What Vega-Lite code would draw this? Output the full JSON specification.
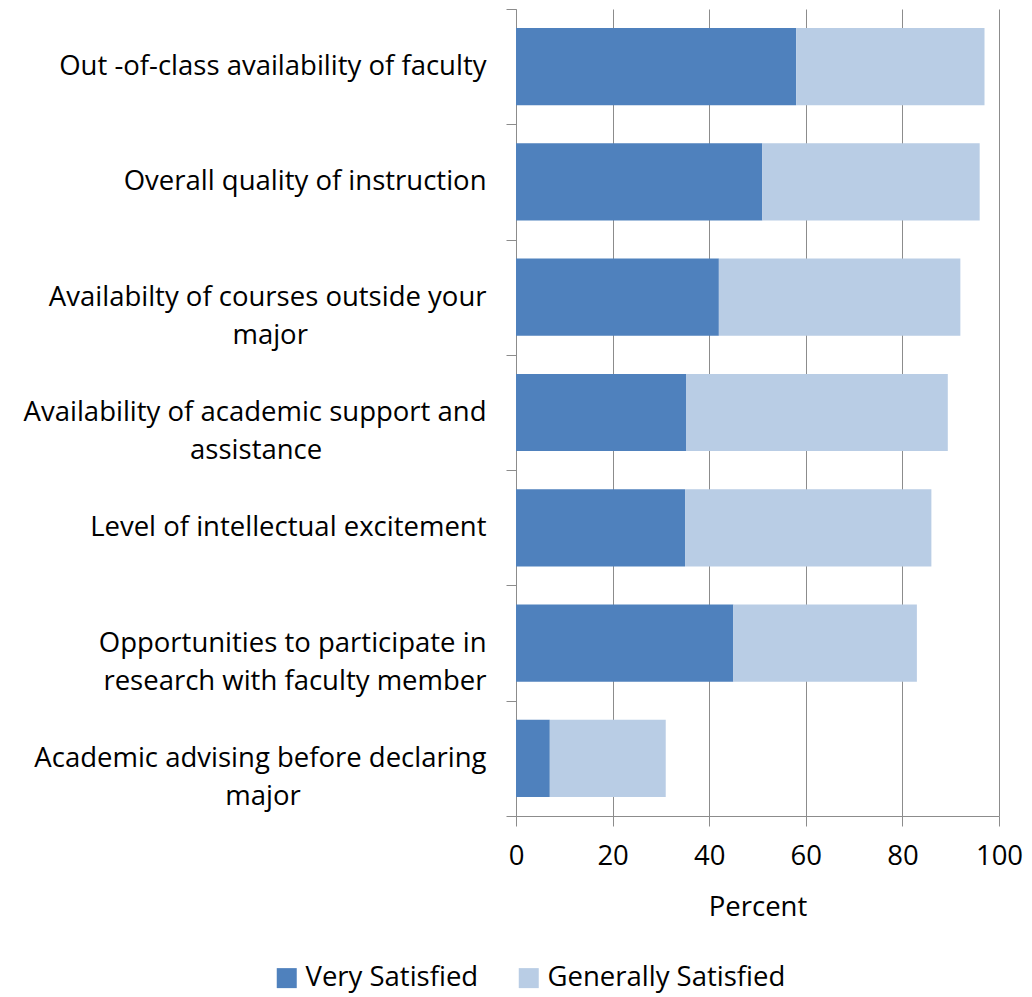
{
  "$schema": "https://vega.github.io/schema/vega-lite/v6.json",
  "width": 483,
  "height": 807,
  "autosize": "none",
  "padding": {"left": 516, "top": 9, "right": 33, "bottom": 181},
  "background": "white",
  "config": {
    "font": "Open Sans",
    "view": {"stroke": null}
  },
  "data": {
    "values": [
      {"item": "Out -of-class availability of faculty", "group": "Very Satisfied", "ord": 1, "value": 58},
      {"item": "Out -of-class availability of faculty", "group": "Generally Satisfied", "ord": 2, "value": 39},
      {"item": "Overall quality of instruction", "group": "Very Satisfied", "ord": 1, "value": 51},
      {"item": "Overall quality of instruction", "group": "Generally Satisfied", "ord": 2, "value": 45},
      {"item": "Availabilty of courses outside your|major\u00a0\u00a0\u00a0\u00a0\u00a0\u00a0\u00a0\u00a0\u00a0\u00a0\u00a0\u00a0\u00a0\u00a0\u00a0\u00a0\u00a0\u00a0\u00a0\u00a0\u00a0\u00a0\u00a0\u00a0\u00a0\u200b", "group": "Very Satisfied", "ord": 1, "value": 42},
      {"item": "Availabilty of courses outside your|major\u00a0\u00a0\u00a0\u00a0\u00a0\u00a0\u00a0\u00a0\u00a0\u00a0\u00a0\u00a0\u00a0\u00a0\u00a0\u00a0\u00a0\u00a0\u00a0\u00a0\u00a0\u00a0\u00a0\u00a0\u00a0\u200b", "group": "Generally Satisfied", "ord": 2, "value": 50},
      {"item": "Availability of academic support and|assistance\u00a0\u00a0\u00a0\u00a0\u00a0\u00a0\u00a0\u00a0\u00a0\u00a0\u00a0\u00a0\u00a0\u00a0\u00a0\u00a0\u00a0\u00a0\u00a0\u00a0\u00a0\u00a0\u00a0\u200b", "group": "Very Satisfied", "ord": 1, "value": 35.2},
      {"item": "Availability of academic support and|assistance\u00a0\u00a0\u00a0\u00a0\u00a0\u00a0\u00a0\u00a0\u00a0\u00a0\u00a0\u00a0\u00a0\u00a0\u00a0\u00a0\u00a0\u00a0\u00a0\u00a0\u00a0\u00a0\u00a0\u200b", "group": "Generally Satisfied", "ord": 2, "value": 54.2},
      {"item": "Level of intellectual excitement", "group": "Very Satisfied", "ord": 1, "value": 35},
      {"item": "Level of intellectual excitement", "group": "Generally Satisfied", "ord": 2, "value": 51},
      {"item": "Opportunities to participate in|research with faculty member", "group": "Very Satisfied", "ord": 1, "value": 45},
      {"item": "Opportunities to participate in|research with faculty member", "group": "Generally Satisfied", "ord": 2, "value": 38},
      {"item": "Academic advising before declaring|major\u00a0\u00a0\u00a0\u00a0\u00a0\u00a0\u00a0\u00a0\u00a0\u00a0\u00a0\u00a0\u00a0\u00a0\u00a0\u00a0\u00a0\u00a0\u00a0\u00a0\u00a0\u00a0\u00a0\u00a0\u00a0\u00a0\u200b", "group": "Very Satisfied", "ord": 1, "value": 7},
      {"item": "Academic advising before declaring|major\u00a0\u00a0\u00a0\u00a0\u00a0\u00a0\u00a0\u00a0\u00a0\u00a0\u00a0\u00a0\u00a0\u00a0\u00a0\u00a0\u00a0\u00a0\u00a0\u00a0\u00a0\u00a0\u00a0\u00a0\u00a0\u00a0\u200b", "group": "Generally Satisfied", "ord": 2, "value": 24}
    ]
  },
  "mark": {"type": "bar", "height": {"band": 0.67}},
  "encoding": {
    "y": {
      "field": "item",
      "type": "nominal",
      "sort": null,
      "scale": {"paddingInner": 0, "paddingOuter": 0},
      "axis": {
        "title": null,
        "labelExpr": "split(datum.label, '|')",
        "labelFontSize": 27.5,
        "labelColor": "black",
        "labelPadding": 20,
        "labelLimit": 600,
        "labelLineHeight": 38,
        "tickBand": "extent",
        "tickSize": 10,
        "tickColor": "#8c8c8c",
        "domainColor": "#8c8c8c",
        "grid": false
      }
    },
    "x": {
      "field": "value",
      "type": "quantitative",
      "stack": "zero",
      "scale": {"domain": [0, 100], "nice": false},
      "axis": {
        "title": "Percent",
        "values": [0, 20, 40, 60, 80, 100],
        "labelFlush": false,
        "titleFontSize": 27.5,
        "titleFontWeight": "normal",
        "titleColor": "black",
        "titlePadding": 24,
        "labelFontSize": 27.5,
        "labelColor": "black",
        "labelPadding": 16,
        "tickSize": 10,
        "tickColor": "#8c8c8c",
        "domainColor": "#8c8c8c",
        "gridColor": "#8c8c8c",
        "gridOpacity": 1
      }
    },
    "color": {
      "field": "group",
      "type": "nominal",
      "scale": {"domain": ["Very Satisfied", "Generally Satisfied"], "range": ["#4F81BD", "#B9CDE5"]},
      "legend": {
        "title": null,
        "orient": "none",
        "direction": "horizontal",
        "legendX": -243,
        "legendY": 955,
        "symbolType": "square",
        "symbolSize": 400,
        "symbolStrokeWidth": 0,
        "labelFontSize": 27.5,
        "labelColor": "black",
        "labelLimit": 400,
        "columnPadding": 36,
        "labelOffset": 5
      }
    },
    "order": {"field": "ord", "type": "quantitative"}
  }
}
